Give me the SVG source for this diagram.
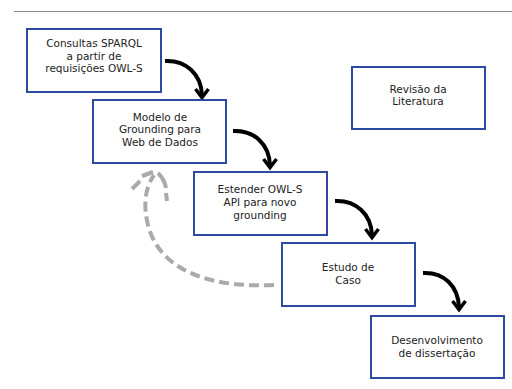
<svg xmlns="http://www.w3.org/2000/svg" width="512" height="389" viewBox="0 0 512 389">
<defs>
<style>
.box{fill:#fff;stroke:#2b4aa0;stroke-width:2}
.lbl{font-family:"DejaVu Sans",sans-serif;font-size:10.5px;fill:#222;text-anchor:middle}
.arr{fill:none;stroke:#000;stroke-width:4;stroke-linecap:butt}
.head{fill:none;stroke:#000;stroke-width:3.5;stroke-linejoin:miter}
.dash{fill:none;stroke:#aaa;stroke-width:4;stroke-dasharray:10 5}
.arm{fill:none;stroke:#aaa;stroke-width:4}
</style>
</defs>
<rect width="512" height="389" fill="#fff"/>
<line x1="14" y1="11.5" x2="512" y2="11.5" stroke="#888" stroke-width="1"/>
<g id="connectors">
<path class="arr" d="M165,61 C186,60 201,74 202,95"/>
<polyline class="head" points="195.5,89 202,97.5 208.5,89"/>
<path class="arr" d="M233,131 C254,130 269,144 270,165"/>
<polyline class="head" points="263.5,159 270,167.5 276.5,159"/>
<path class="arr" d="M335,201 C356,200 371,214 372,235"/>
<polyline class="head" points="365.5,229 372,237.5 378.5,229"/>
<path class="arr" d="M423,273 C444,272 458,286 459,307"/>
<polyline class="head" points="452.5,301 459,309.5 465.5,301"/>
<path class="dash" d="M274,285 C215,288 160,273 148,225 C143,205 145,188 154,175"/>
<path class="arm" d="M142,176 L153,172"/>
<path class="arm" d="M140,181 L132,189"/>
<path class="arm" d="M158,173 C162,177 165,182 166,188"/>
<path class="arm" d="M166,193 L167,201"/>
</g>
<g id="n1"><rect class="box" x="27" y="29" width="134" height="63"/>
<text class="lbl" x="94" y="47">Consultas SPARQL</text>
<text class="lbl" x="94" y="59.5">a partir de</text>
<text class="lbl" x="94" y="72">requisições OWL-S</text></g>
<g id="n2"><rect class="box" x="93" y="100" width="133" height="63"/>
<text class="lbl" x="160" y="120.5">Modelo de</text>
<text class="lbl" x="160" y="133.3">Grounding para</text>
<text class="lbl" x="160" y="146">Web de Dados</text></g>
<g id="n3"><rect class="box" x="352" y="67" width="133" height="62"/>
<text class="lbl" x="418" y="92.7">Revisão da</text>
<text class="lbl" x="418" y="105.3">Literatura</text></g>
<g id="n4"><rect class="box" x="194" y="172" width="133" height="63"/>
<text class="lbl" x="260" y="193.3">Estender OWL-S</text>
<text class="lbl" x="260" y="206">API para novo</text>
<text class="lbl" x="260" y="218.7">grounding</text></g>
<g id="n5"><rect class="box" x="282" y="243" width="133" height="63"/>
<text class="lbl" x="348" y="271">Estudo de</text>
<text class="lbl" x="348" y="284">Caso</text></g>
<g id="n6"><rect class="box" x="371" y="316" width="133" height="62"/>
<text class="lbl" x="437" y="344.3">Desenvolvimento</text>
<text class="lbl" x="437" y="357.3">de dissertação</text></g>
</svg>
